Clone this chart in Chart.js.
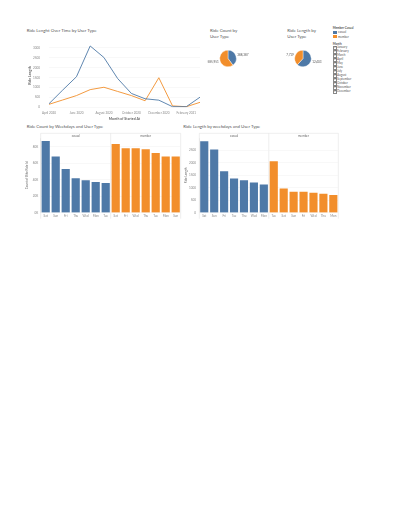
<!DOCTYPE html>
<html>
<head>
<meta charset="utf-8">
<script src="https://cdn.jsdelivr.net/npm/chart.js@4"></script>
<style>
body { margin: 0; background: #fff; width: 400px; height: 518px; position: relative; overflow: hidden; font-family: Lato, "Open Sans", sans-serif; color: #555; }
canvas { position: absolute; }
.t { position: absolute; font-size: 4.4px; line-height: 6px; color: #555; white-space: nowrap; }
.s { position: absolute; font-size: 3px; line-height: 4px; color: #555; white-space: nowrap; }
.sw { position: absolute; width: 4px; height: 3.3px; }
.cb { position: absolute; width: 2.4px; height: 2.4px; border: 0.4px solid #888; font-size: 2.5px; line-height: 2.4px; text-align: center; color: #444; }
</style>
</head>
<body>

<div class="t" style="left:26.7px;top:28px">Ride Lenght Over Time by User Type</div>
<div class="t" style="left:210px;top:27.7px">Ride Count by<br>User Type</div>
<div class="t" style="left:287.3px;top:27.7px">Ride Length by<br>User Type</div>
<div class="t" style="left:26.7px;top:124.3px">Ride Count by Weekdays and User Type</div>
<div class="t" style="left:183.3px;top:124.3px">Ride Length by weekdays and User Type</div>
<div id="legend"></div>

<canvas id="lineChart" width="190" height="90" style="left:20px;top:33px"></canvas>
<canvas id="pieCount" width="52" height="29" style="left:202px;top:44px"></canvas>
<canvas id="pieLength" width="52" height="29" style="left:277.3px;top:44px"></canvas>
<canvas id="barCount" width="166" height="94" style="left:20px;top:128px"></canvas>
<canvas id="barLength" width="164" height="94" style="left:180px;top:128px"></canvas>

<script>
// data
const userTypes = ["casual", "member"];
const months = ["April 2020", "May 2020", "June 2020", "July 2020", "August 2020", "September 2020",
    "October 2020", "November 2020", "December 2020", "January 2021", "February 2021", "March 2021"];
const casualLengthByMonth = [180, 870, 1540, 3090, 2510, 1450, 700, 430, 360, 30, 30, 510];
const memberLengthByMonth = [150, 370, 590, 890, 1010, 800, 590, 330, 1490, 70, 30, 250];
const lengthTicks = [0, 500, 1000, 1500, 2000, 2500, 3000];

const rideCountTotals = [388387, 585951];   // casual, member
const rideLengthTotals = [12403, 7719];     // casual, member

const casualCountDays = ["Sat", "Sun", "Fri", "Thu", "Wed", "Mon", "Tue"];
const casualCounts = [87000, 68000, 53000, 41600, 39200, 37200, 36000];
const memberCountDays = ["Sat", "Fri", "Wed", "Thu", "Tue", "Mon", "Sun"];
const memberCounts = [83200, 78000, 78000, 76800, 72400, 68000, 68000];
const countTicks = [0, 20000, 40000, 60000, 80000];

const casualLengthDays = ["Sat", "Sun", "Fri", "Tue", "Thu", "Wed", "Mon"];
const casualLengths = [2855, 2525, 1660, 1370, 1300, 1210, 1130];
const memberLengthDays = ["Tue", "Sat", "Sun", "Fri", "Wed", "Thu", "Mon"];
const memberLengths = [2060, 970, 835, 835, 800, 755, 705];
const dayLengthTicks = [0, 500, 1000, 1500, 2000, 2500];

const filterMonths = ["January", "February", "March", "April", "May", "June", "July",
    "August", "September", "October", "November", "December"];

const BLUE = "#4e79a7";
const ORANGE = "#f28e2b";

Chart.defaults.font.family = "Lato, 'Open Sans', sans-serif";
Chart.defaults.color = "#777";
Chart.defaults.animation = false;
Chart.defaults.responsive = false;
Chart.defaults.devicePixelRatio = 1;
Chart.defaults.plugins.legend.display = false;
Chart.defaults.plugins.tooltip.enabled = false;

const gridColor = "#f0f0f0";

// line chart
new Chart(document.getElementById("lineChart"), {
    type: "line",
    data: {
        labels: months,
        datasets: [
            { data: casualLengthByMonth, borderColor: BLUE, borderWidth: 0.9, pointRadius: 0, tension: 0 },
            { data: memberLengthByMonth, borderColor: ORANGE, borderWidth: 0.9, pointRadius: 0, tension: 0 }
        ]
    },
    options: {
        layout: { padding: { top: 3.6, right: 10, left: 0, bottom: 0 } },
        scales: {
            x: {
                offset: false,
                grid: { display: false, drawTicks: false },
                border: { display: false },
                afterFit: s => { s.height = 15.7; },
                ticks: {
                    autoSkip: false, maxRotation: 0, padding: 4,
                    font: { size: 3 }, color: "#888",
                    callback: function (v, i) { return i % 2 === 0 ? this.getLabelForValue(v) : ""; }
                },
                title: { display: true, text: "Month of Started At", font: { size: 3.5, weight: "bold" }, color: "#666", padding: { top: 0, bottom: 2 } }
            },
            y: {
                min: 0, max: 3200,
                afterBuildTicks: s => { s.ticks = lengthTicks.map(v => ({ value: v })); },
                grid: { color: gridColor, lineWidth: 0.5, drawTicks: false },
                border: { display: false },
                afterFit: s => { s.width = 29; },
                ticks: { autoSkip: false, padding: 9, font: { size: 3 }, color: "#888", callback: v => String(v) },
                title: { display: true, text: "Ride Length", font: { size: 3.5, weight: "bold" }, color: "#666", padding: { top: 8, bottom: 0 } }
            }
        }
    }
});

// pie labels next to each slice
const pieLabels = {
    id: "pieLabels",
    afterDatasetsDraw(chart) {
        const ctx = chart.ctx;
        const meta = chart.getDatasetMeta(0);
        const values = chart.data.datasets[0].data;
        ctx.save();
        ctx.font = "3px Lato";
        ctx.fillStyle = "#555";
        ctx.textBaseline = "middle";
        meta.data.forEach((arc, i) => {
            const mid = (arc.startAngle + arc.endAngle) / 2;
            const r = arc.outerRadius + 1.5;
            ctx.textAlign = Math.cos(mid) >= 0 ? "left" : "right";
            ctx.fillText(values[i].toLocaleString("en-US"), arc.x + Math.cos(mid) * r, arc.y + Math.sin(mid) * r);
        });
        ctx.restore();
    }
};

function makePie(id, values) {
    new Chart(document.getElementById(id), {
        type: "pie",
        data: {
            labels: userTypes,
            datasets: [{ data: values, backgroundColor: [BLUE, ORANGE], borderColor: "#fff", borderWidth: 0.4 }]
        },
        options: { layout: { padding: { top: 6, bottom: 6, left: 0, right: 0 } } },
        plugins: [pieLabels]
    });
}
makePie("pieCount", rideCountTotals);
makePie("pieLength", rideLengthTotals);

// facet header ("casual" | "member") and pane separators for the weekday bars
const facets = {
    id: "facets",
    beforeDraw(chart) {
        const { ctx, chartArea: a, scales: { x } } = chart;
        const split = (x.getPixelForTick(6) + x.getPixelForTick(7)) / 2;
        const top = a.top - 4.7;
        ctx.save();
        ctx.strokeStyle = "#ddd";
        ctx.lineWidth = 0.5;
        ctx.beginPath();
        ctx.moveTo(a.left, top);
        ctx.lineTo(a.right, top);
        [a.left, split, a.right].forEach(px => { ctx.moveTo(px, top); ctx.lineTo(px, a.bottom + 6); });
        ctx.stroke();
        ctx.font = "3px Lato";
        ctx.fillStyle = "#666";
        ctx.textAlign = "center";
        ctx.textBaseline = "middle";
        ctx.fillText(userTypes[0], (a.left + split) / 2, top + 2.7);
        ctx.fillText(userTypes[1], (split + a.right) / 2, top + 2.7);
        ctx.restore();
    }
};

function makeBars(id, labels, values, max, tickValues, fmt, yTitle, pad) {
    new Chart(document.getElementById(id), {
        type: "bar",
        data: {
            labels: labels,
            datasets: [{
                data: values,
                backgroundColor: values.map((v, i) => i < 7 ? BLUE : ORANGE),
                categoryPercentage: 1, barPercentage: 0.82
            }]
        },
        options: {
            layout: { padding: { top: 10, right: pad.right, left: 0, bottom: 0 } },
            scales: {
                x: {
                    grid: { display: false, drawTicks: false },
                    border: { display: false },
                    afterFit: s => { s.height = 9.3; },
                    ticks: { autoSkip: false, maxRotation: 0, padding: 1.5, font: { size: 3 }, color: "#888" }
                },
                y: {
                    min: 0, max: max,
                    afterBuildTicks: s => { s.ticks = tickValues.map(v => ({ value: v })); },
                    grid: { color: gridColor, lineWidth: 0.5, drawTicks: false },
                    border: { color: "#ddd", width: 0.5 },
                    afterFit: s => { s.width = pad.axis; },
                    ticks: { autoSkip: false, padding: pad.ticks, font: { size: 3 }, color: "#888", callback: fmt },
                    title: { display: true, text: yTitle, font: { size: 3 }, color: "#666", padding: { top: pad.title, bottom: 0 } }
                }
            }
        },
        plugins: [facets]
    });
}

makeBars("barCount", casualCountDays.concat(memberCountDays), casualCounts.concat(memberCounts),
    90500, countTicks, v => (v / 1000) + "K", "Count of Bike Ride Id", { right: 5.3, axis: 20.7, ticks: 2.4, title: 5.5 });
makeBars("barLength", casualLengthDays.concat(memberLengthDays), casualLengths.concat(memberLengths),
    2990, dayLengthTicks, v => String(v), "Ride Length", { right: 5.7, axis: 19.3, ticks: 3.3, title: 4.2 });

// legend and month filter
const legend = document.getElementById("legend");
let html = '<div class="s" style="left:332.7px;top:26.3px;font-weight:bold">Member Casual</div>';
userTypes.forEach((u, i) => {
    const y = 30.6 + i * 4.4;
    html += '<div class="sw" style="left:332.7px;top:' + y + 'px;background:' + (i === 0 ? BLUE : ORANGE) + '"></div>';
    html += '<div class="s" style="left:338px;top:' + (y - 0.3) + 'px">' + u + '</div>';
});
html += '<div class="s" style="left:332.7px;top:41.7px;font-weight:bold">Month</div>';
filterMonths.forEach((m, i) => {
    const y = 45.8 + i * 4;
    html += '<div class="cb" style="left:332.7px;top:' + y + 'px">&#10003;</div>';
    html += '<div class="s" style="left:337px;top:' + (y - 0.5) + 'px">' + m + '</div>';
});
legend.innerHTML = html;
</script>
</body>
</html>
